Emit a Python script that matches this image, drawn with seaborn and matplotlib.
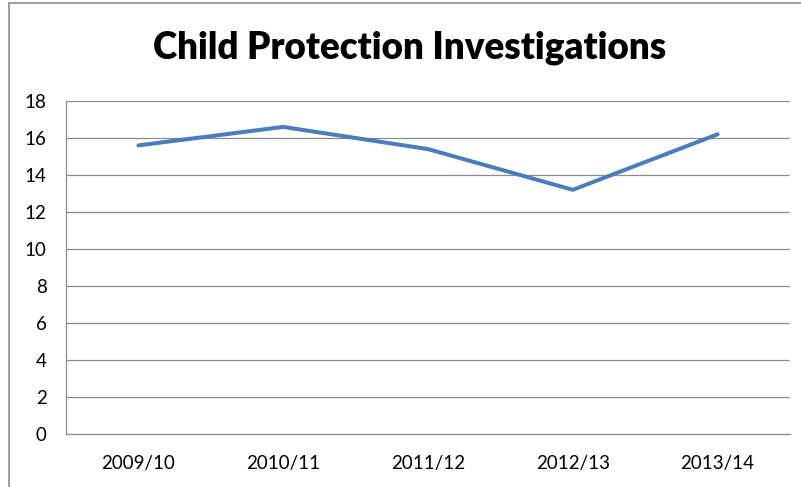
import matplotlib
matplotlib.use("Agg")
import matplotlib.pyplot as plt
import pandas as pd
import seaborn as sns
from matplotlib.lines import Line2D

# data
years = ["2009/10", "2010/11", "2011/12", "2012/13", "2013/14"]
investigations = [15.6, 16.6, 15.4, 13.2, 16.2]
y_ticks = [0, 2, 4, 6, 8, 10, 12, 14, 16, 18]

df = pd.DataFrame({"year": years, "value": investigations})

sns.set_style("white")
plt.rcParams['font.family'] = ['Lato', 'DejaVu Sans']

fig = plt.figure(figsize=(8.01, 4.87), dpi=100)
ax = fig.add_axes([66 / 801, 1 - 434 / 487, (790 - 66) / 801, (434 - 101) / 487])

sns.lineplot(data=df, x="year", y="value", ax=ax, color="#4A7EBB",
             linewidth=2.9, sort=False)

ax.set_xlim(-0.5, len(years) - 0.5)
ax.set_ylim(0, 18)
ax.set_yticks(y_ticks)
ax.set_yticklabels([str(t) for t in y_ticks])
ax.grid(axis="y", color="#8C8C8C", linewidth=0.9)
ax.set_axisbelow(True)
for side in ["top", "right"]:
    ax.spines[side].set_visible(False)
for side in ["left", "bottom"]:
    ax.spines[side].set_color("#8C8C8C")
    ax.spines[side].set_linewidth(0.9)
ax.tick_params(axis="both", length=0, labelsize=13.5, colors="#000000")
ax.tick_params(axis="x", pad=15)
ax.tick_params(axis="y", pad=14)
ax.set_xlabel("")
ax.set_ylabel("")

fig.text(410 / 801, 1 - 48 / 487, "Child Protection Investigations",
         ha="center", va="center", fontsize=26.5, fontweight="heavy", color="#000000")

# chart frame (left and top edges visible)
fig.add_artist(Line2D([9 / 801, 9 / 801], [0, 1 - 3 / 487], color="#8C8C8C", linewidth=1.2))
fig.add_artist(Line2D([9 / 801, 1], [1 - 3 / 487, 1 - 3 / 487], color="#8C8C8C", linewidth=1.2))

fig.savefig("out.png", dpi=100)
